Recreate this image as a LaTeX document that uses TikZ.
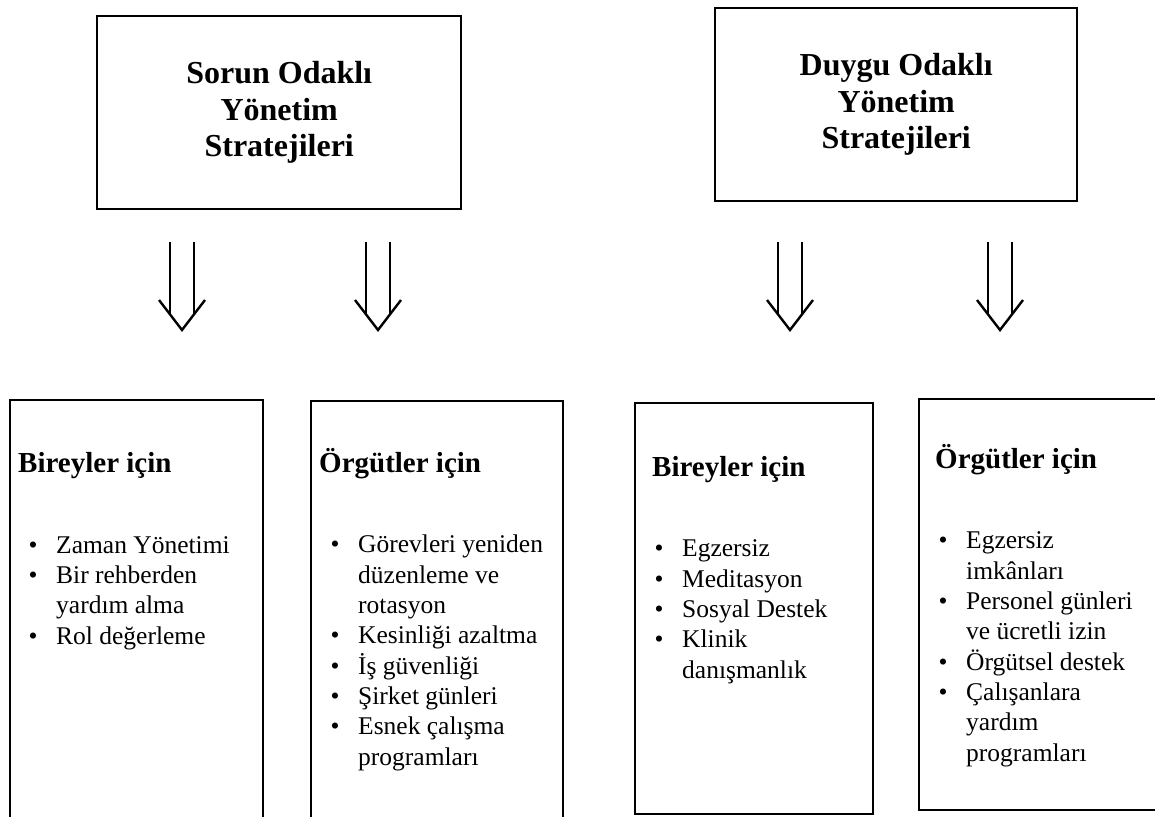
\documentclass[tikz,border=0pt]{standalone}
\usepackage{fontspec}
\setmainfont{Liberation Serif}
\newcommand{\bul}{\makebox[27.5pt][l]{\textbullet}}
\newcommand{\cnt}{\hspace*{27.5pt}}

\begin{document}
\begin{tikzpicture}[x=1pt, y=-1pt]
\tikzstyle{every node}=[font=\fontsize{25.5}{30.3}\selectfont, inner sep=0pt]
\tikzstyle{box}=[draw, line width=2.4pt, anchor=north west]
\tikzstyle{topbox}=[box, minimum width=364, minimum height=193, align=center, font=\fontsize{32}{36.5}\selectfont\bfseries]
\tikzstyle{head}=[font=\fontsize{29}{34}\selectfont\bfseries, anchor=base west]
\tikzstyle{list}=[align=left, anchor=base west] % base = last line
\tikzstyle{dbl}=[line width=2.4pt]

\useasboundingbox (0,0) rectangle (1155,816);

\node[topbox] (sorun) at (96,15) {Sorun Odaklı\\Yönetim\\Stratejileri};
\node[topbox, minimum width=362] (duygu) at (714,7) {Duygu Odaklı\\Yönetim\\Stratejileri};

% arrows
\coordinate (a1) at (182,242); \coordinate (a1tip) at (182,330);
\draw[dbl] ([xshift=-12]a1) -- ([shift={(-12,-16)}]a1tip) ([xshift=12]a1) -- ([shift={(12,-16)}]a1tip);
\draw[dbl] ([shift={(-23,-30)}]a1tip) -- (a1tip) -- ([shift={(23,-30)}]a1tip);

\coordinate (a2) at (378,242); \coordinate (a2tip) at (378,330);
\draw[dbl] ([xshift=-12]a2) -- ([shift={(-12,-16)}]a2tip) ([xshift=12]a2) -- ([shift={(12,-16)}]a2tip);
\draw[dbl] ([shift={(-23,-30)}]a2tip) -- (a2tip) -- ([shift={(23,-30)}]a2tip);

\coordinate (a3) at (790,242); \coordinate (a3tip) at (790,330);
\draw[dbl] ([xshift=-12]a3) -- ([shift={(-12,-16)}]a3tip) ([xshift=12]a3) -- ([shift={(12,-16)}]a3tip);
\draw[dbl] ([shift={(-23,-30)}]a3tip) -- (a3tip) -- ([shift={(23,-30)}]a3tip);

\coordinate (a4) at (1000,242); \coordinate (a4tip) at (1000,330);
\draw[dbl] ([xshift=-12]a4) -- ([shift={(-12,-16)}]a4tip) ([xshift=12]a4) -- ([shift={(12,-16)}]a4tip);
\draw[dbl] ([shift={(-23,-30)}]a4tip) -- (a4tip) -- ([shift={(23,-30)}]a4tip);

% bottom boxes
\node[box, minimum width=253, minimum height=430] (bir1) at (9,399) {};
    \node[head] (bir1h) at (18,472) {Bireyler için};
    \node[list] (bir1l) at (28.5,644) {\bul Zaman Yönetimi\\ \bul Bir rehberden\\ \cnt yardım alma\\ \bul Rol değerleme};

\node[box, minimum width=252, minimum height=430] (org1) at (310,400) {};
    \node[head] (org1h) at (319,472) {Örgütler için};
    \node[list] (org1l) at (330.5,765) {\bul Görevleri yeniden\\ \cnt düzenleme ve\\ \cnt rotasyon\\ \bul Kesinliği azaltma\\ \bul İş güvenliği\\ \bul Şirket günleri\\ \bul Esnek çalışma\\ \cnt programları};

\node[box, minimum width=238, minimum height=411] (bir2) at (634,402) {};
    \node[head] (bir2h) at (652,476) {Bireyler için};
    \node[list] (bir2l) at (654.5,678) {\bul Egzersiz\\ \bul Meditasyon\\ \bul Sosyal Destek\\ \bul Klinik\\ \cnt danışmanlık};

\node[box, minimum width=260, minimum height=411] (org2) at (918,398) {};
    \node[head] (org2h) at (935,468) {Örgütler için};
    \node[list] (org2l) at (938.5,761) {\bul Egzersiz\\ \cnt imkânları\\ \bul Personel günleri\\ \cnt ve ücretli izin\\ \bul Örgütsel destek\\ \bul Çalışanlara\\ \cnt yardım\\ \cnt programları};

\end{tikzpicture}
\end{document}
